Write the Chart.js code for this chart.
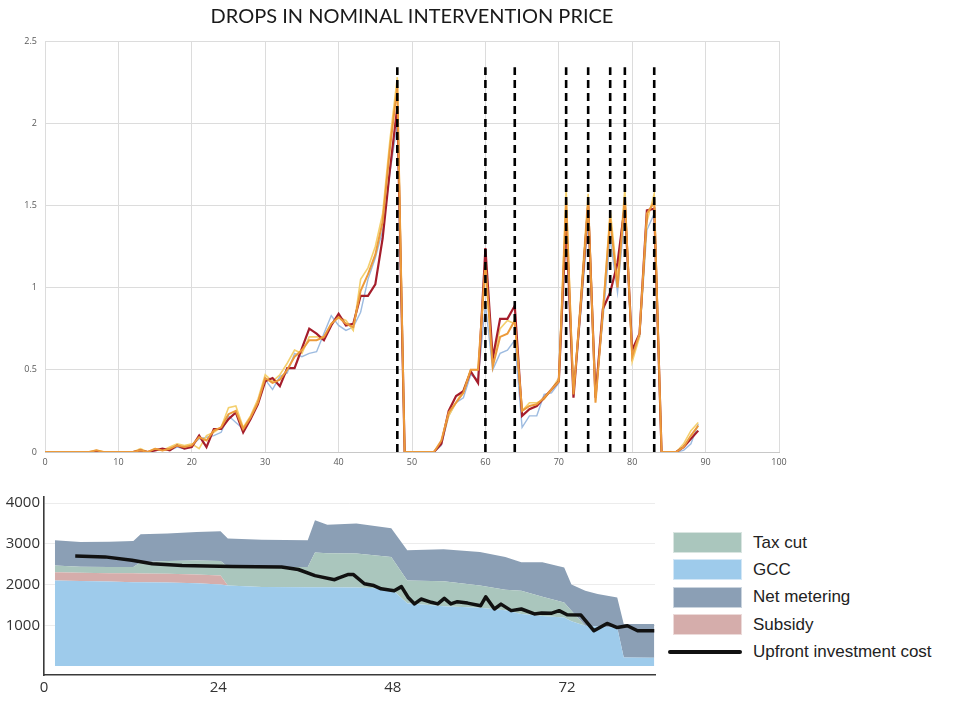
<!DOCTYPE html>
<html>
<head>
<meta charset="utf-8">
<script src="https://cdn.jsdelivr.net/npm/chart.js@4.4.1/dist/chart.umd.min.js"></script>
<style>
  html, body { margin: 0; padding: 0; background: #fff; width: 954px; height: 701px; overflow: hidden; }
  #topWrap    { position: absolute; left: 0; top: 0;   width: 800px; height: 475px; }
  #bottomWrap { position: absolute; left: 0; top: 480px; width: 665px; height: 221px; }
  #legend {
    position: absolute; left: 668px; top: 529px;
    font-family: "Liberation Sans", Arial, sans-serif; font-size: 17px; color: #222;
  }
  .row { height: 27.3px; display: flex; align-items: center; }
  .sw  { width: 69px; height: 21px; margin-left: 5px; margin-right: 11px; box-sizing: border-box; }
  .ln  { width: 74px; height: 4px; background: #111; margin-right: 11px; border-radius: 2px; }
</style>
</head>
<body>
<div id="topWrap"><canvas id="chartDrops" width="800" height="475"></canvas></div>
<div id="bottomWrap"><canvas id="chartCost" width="665" height="221"></canvas></div>
<div id="legend"></div>

<script>
/* =========================
   DONNEES - graphique du haut
========================= */

const dropsTitle = "DROPS IN NOMINAL INTERVENTION PRICE";

const redSeries = [
  0, 0, 0, 0, 0, 0, 0, 0, 0, 0,
  0, 0, 0, 0.01, 0, 0.01, 0.02, 0.01, 0.04, 0.02,
  0.03, 0.1, 0.03, 0.14, 0.14, 0.2, 0.24, 0.12, 0.2, 0.29,
  0.43, 0.45, 0.4, 0.51, 0.51, 0.63, 0.75, 0.72, 0.68, 0.77,
  0.84, 0.77, 0.78, 0.95, 0.95, 1.02, 1.3, 1.72, 2.1, 0,
  0, 0, 0, 0, 0.05, 0.25, 0.34, 0.37, 0.49, 0.42,
  1.24, 0.57, 0.81, 0.81, 0.89, 0.22, 0.26, 0.28, 0.33, 0.38,
  0.43, 1.42, 0.33, 0.9, 1.5, 0.33, 0.87, 0.97, 1.15, 1.5,
  0.62, 0.72, 1.47, 1.48, 0, 0, 0, 0.03, 0.08, 0.13
];

const orangeSeries = [
  0, 0, 0, 0, 0, 0, 0, 0.01, 0, 0,
  0, 0, 0, 0.01, 0, 0.02, 0.01, 0.02, 0.04, 0.03,
  0.04, 0.09, 0.07, 0.13, 0.15, 0.23, 0.25, 0.14, 0.21, 0.3,
  0.45, 0.42, 0.44, 0.5, 0.58, 0.62, 0.68, 0.68, 0.7, 0.78,
  0.82, 0.78, 0.76, 0.98, 1.08, 1.2, 1.4, 1.85, 2.22, 0,
  0, 0, 0, 0, 0.07, 0.24, 0.3, 0.36, 0.5, 0.5,
  1.15, 0.52, 0.7, 0.72, 0.8, 0.25, 0.28, 0.29, 0.33, 0.38,
  0.43, 1.52, 0.35, 0.9, 1.52, 0.3, 0.85, 1.42, 1.0, 1.55,
  0.58, 0.72, 1.45, 1.52, 0, 0, 0, 0.03, 0.1, 0.16
];

const yellowSeries = [
  0, 0, 0, 0, 0, 0, 0, 0.01, 0, 0,
  0, 0, 0, 0.02, 0, 0.02, 0.01, 0.03, 0.05, 0.04,
  0.05, 0.02, 0.1, 0.12, 0.15, 0.27, 0.28, 0.15, 0.22, 0.32,
  0.47, 0.43, 0.47, 0.54, 0.62, 0.6, 0.7, 0.7, 0.7, 0.78,
  0.82, 0.8, 0.74, 1.05, 1.12, 1.25, 1.45, 1.9, 2.28, 0,
  0, 0, 0, 0, 0.06, 0.22, 0.3, 0.38, 0.5, 0.5,
  1.1, 0.55, 0.75, 0.8, 0.78, 0.25, 0.3, 0.3, 0.32, 0.38,
  0.45, 1.6, 0.35, 0.95, 1.57, 0.35, 0.85, 1.47, 1.05, 1.6,
  0.55, 0.7, 1.4, 1.57, 0, 0, 0, 0.05, 0.13, 0.18
];

const blueSeries = [
  0, 0, 0, 0, 0, 0, 0, 0, 0, 0,
  0, 0, 0, 0.01, 0, 0.01, 0.02, 0.01, 0.03, 0.02,
  0.04, 0.08, 0.09, 0.1, 0.12, 0.22, 0.18, 0.14, 0.2, 0.3,
  0.44, 0.38, 0.46, 0.48, 0.6, 0.58, 0.6, 0.61, 0.72, 0.83,
  0.77, 0.74, 0.76, 0.85, 1.05, 1.18, 1.35, 1.7, 2.0, 0,
  0, 0, 0, 0, 0.04, 0.22, 0.3, 0.33, 0.47, 0.44,
  0.9, 0.5, 0.6, 0.62, 0.68, 0.15, 0.22, 0.22, 0.35, 0.36,
  0.42, 1.35, 0.35, 0.85, 1.4, 0.35, 0.8, 1.3, 0.97, 1.45,
  0.6, 0.7, 1.35, 1.45, 0, 0, 0, 0.01, 0.05, 0.17
];

// pas ou le prix chute (lignes pointillees)
const dropSteps = [48, 60, 64, 71, 74, 77, 79, 83];
const dropTop   = 2.34;

/* =========================
   DONNEES - graphique du bas
========================= */

const areaMonths = [1.5, 5, 9, 12.3, 13.3, 17, 21, 24.3, 25.3, 30, 36.3, 37.3, 39, 43,
                    47.8, 50, 55, 60, 63.5, 65.7, 68.6, 71.6, 72.6, 74.5, 76.2, 78.9, 79.8, 84];

const gccValues     = [2100, 2090, 2075, 2060, 2060, 2050, 2030, 2000, 1975, 1940, 1935, 1935, 1935, 1930,
                       1895, 1540, 1470, 1430, 1370, 1280, 1230, 1190, 1100, 990, 970, 945, 210, 205];
const subsidyValues = [200, 198, 205, 215, 212, 215, 220, 220, 0, 0, 0, 0, 0, 0,
                       0, 0, 0, 0, 0, 0, 0, 0, 0, 0, 0, 0, 0, 0];
const taxCutValues  = [170, 150, 150, 155, 278, 315, 340, 360, 465, 490, 495, 855, 835, 830,
                       785, 560, 610, 550, 500, 570, 470, 370, 260, 0, 0, 0, 0, 0];
const netMeterValues = [620, 605, 620, 640, 685, 675, 700, 730, 690, 670, 656, 790, 700, 740,
                        700, 740, 785, 820, 810, 700, 850, 860, 640, 860, 800, 735, 820, 825];

const costMonths = [4.3, 8.4, 12.1, 14.9, 19, 25.9, 32.7, 35, 37.3, 40, 40.5, 41.9, 42.6, 44.1, 45.4,
                    46.4, 48.2, 49.2, 50.1, 51, 51.9, 53.3, 54.2, 55.1, 56, 56.9, 58.3, 60.1, 60.8,
                    62, 62.9, 64.3, 65.7, 67.5, 68.5, 69.8, 70.9, 72, 73.9, 75.7, 77.5, 78.9, 80.3,
                    81.7, 84];
const costValues = [2700, 2680, 2595, 2510, 2470, 2445, 2430, 2370, 2220, 2120, 2160, 2250, 2245, 2020, 1975,
                    1895, 1850, 1950, 1690, 1525, 1645, 1565, 1525, 1660, 1525, 1580, 1545, 1480, 1700,
                    1400, 1520, 1360, 1400, 1280, 1300, 1295, 1360, 1260, 1250, 865, 1045, 945, 990,
                    865, 865];

const costTicksX = [0, 24, 48, 72];
const costTicksY = [1000, 2000, 3000, 4000];

const legendItems = [
  { label: "Tax cut",      color: "#aac6bd" },
  { label: "GCC",          color: "#9ecbeb" },
  { label: "Net metering", color: "#8b9fb5" },
  { label: "Subsidy",      color: "#d5adab" },
  { label: "Upfront investment cost", line: true }
];

/* -------------------------------------------------
   GRAPHIQUE 1 : chutes du prix d'intervention
------------------------------------------------- */

function toPoints(values) {
  return values.map((v, i) => ({ x: i, y: v }));
}

function renderDropsChart() {
  const canvas = document.getElementById("chartDrops");

  const lines = [
    { label: "orange", data: toPoints(orangeSeries), borderColor: "#ec9a3a", borderWidth: 2,   order: 1 },
    { label: "red",    data: toPoints(redSeries),    borderColor: "#a51d2b", borderWidth: 2.2, order: 2 },
    { label: "yellow", data: toPoints(yellowSeries), borderColor: "#f4d06e", borderWidth: 1.6, order: 3 },
    { label: "blue",   data: toPoints(blueSeries),   borderColor: "#9dbbe0", borderWidth: 1.4, order: 4 }
  ];

  const dashes = dropSteps.map(s => ({
    label: "drop " + s,
    data: [{ x: s, y: 0 }, { x: s, y: dropTop }],
    borderColor: "#000",
    borderWidth: 2.6,
    borderDash: [8, 5],
    order: 0
  }));

  new Chart(canvas, {
    type: "line",
    data: { datasets: [...dashes, ...lines] },
    options: {
      responsive: false,
      animation: false,
      layout: { padding: { left: 0, right: 21, top: 0, bottom: 0 } },
      elements: { point: { radius: 0 }, line: { tension: 0 } },
      plugins: {
        legend: { display: false },
        tooltip: { enabled: false },
        title: {
          display: true,
          text: dropsTitle,
          fullSize: false,
          color: "#1a1a1a",
          font: { family: "Lato, 'Open Sans', sans-serif", size: 20, weight: "normal" },
          padding: { top: 5, bottom: 12 }
        }
      },
      scales: {
        x: {
          type: "linear",
          min: 0, max: 100,
          afterFit: s => { s.height = 23; },
          grid: { color: "#dcdcdc", drawTicks: false },
          border: { color: "#c8c8c8" },
          ticks: { stepSize: 10, padding: 5, color: "#595959", font: { family: "Open Sans, sans-serif", size: 9 },
                   callback: v => String(v) }
        },
        y: {
          min: 0, max: 2.5,
          afterFit: s => { s.width = 45; },
          grid: { color: "#dcdcdc", drawTicks: false },
          border: { display: false },
          ticks: { stepSize: 0.5, padding: 8, color: "#595959", font: { family: "Open Sans, sans-serif", size: 9 },
                   callback: v => String(v) }
        }
      }
    }
  });
}

/* -------------------------------------------------
   GRAPHIQUE 2 : cout d'investissement
------------------------------------------------- */

function toArea(values) {
  return values.map((v, i) => ({ x: areaMonths[i], y: v }));
}

function renderCostChart() {
  const canvas = document.getElementById("chartCost");
  const color  = name => legendItems.find(it => it.label === name).color;

  new Chart(canvas, {
    type: "line",
    data: {
      datasets: [
        {
          label: "Upfront investment cost",
          data: costMonths.map((m, i) => ({ x: m, y: costValues[i] })),
          borderColor: "#111", borderWidth: 3.5, stack: "cost", fill: false, order: 0
        },
        { label: "GCC",          data: toArea(gccValues),      backgroundColor: color("GCC"),          fill: "origin", stack: "a", order: 1 },
        { label: "Subsidy",      data: toArea(subsidyValues),  backgroundColor: color("Subsidy"),      fill: "-1",     stack: "a", order: 1 },
        { label: "Tax cut",      data: toArea(taxCutValues),   backgroundColor: color("Tax cut"),      fill: "-1",     stack: "a", order: 1 },
        { label: "Net metering", data: toArea(netMeterValues), backgroundColor: color("Net metering"), fill: "-1",     stack: "a", order: 1 }
      ]
    },
    options: {
      responsive: false,
      animation: false,
      layout: { padding: { left: 0, right: 10, top: 17, bottom: 0 } },
      elements: { point: { radius: 0 }, line: { tension: 0, borderWidth: 0, borderJoinStyle: "round" } },
      plugins: { legend: { display: false }, tooltip: { enabled: false } },
      scales: {
        x: {
          type: "linear",
          min: 0, max: 84.1,
          afterFit: s => { s.height = 26; },
          afterBuildTicks: axis => { axis.ticks = costTicksX.map(v => ({ value: v })); },
          grid: { display: false, drawTicks: false },
          border: { color: "#3a3a3a", width: 1.6 },
          ticks: { padding: 4, color: "#333", font: { family: "Open Sans, sans-serif", size: 15 },
                   callback: v => String(v) }
        },
        y: {
          stacked: true,
          min: -220, max: 4150,
          afterFit: s => { s.width = 44; },
          afterBuildTicks: axis => { axis.ticks = costTicksY.map(v => ({ value: v })); },
          grid: { color: "#ececec", drawTicks: false },
          border: { color: "#3a3a3a", width: 1.6 },
          ticks: { padding: 4, color: "#333", font: { family: "Open Sans, sans-serif", size: 15 },
                   callback: v => String(v) }
        }
      }
    }
  });
}

/* -------------------------------------------------
   LEGENDE (HTML)
------------------------------------------------- */

function renderLegend() {
  const box = document.getElementById("legend");
  legendItems.forEach(it => {
    const row = document.createElement("div");
    row.className = "row";
    const mark = document.createElement("div");
    if (it.line) {
      mark.className = "ln";
    } else {
      mark.className = "sw";
      mark.style.background = it.color;
      mark.style.border = "1px solid rgba(255,255,255,0.55)";
    }
    const txt = document.createElement("span");
    txt.textContent = it.label;
    row.appendChild(mark);
    row.appendChild(txt);
    box.appendChild(row);
  });
}

renderDropsChart();
renderCostChart();
renderLegend();
</script>
</body>
</html>
